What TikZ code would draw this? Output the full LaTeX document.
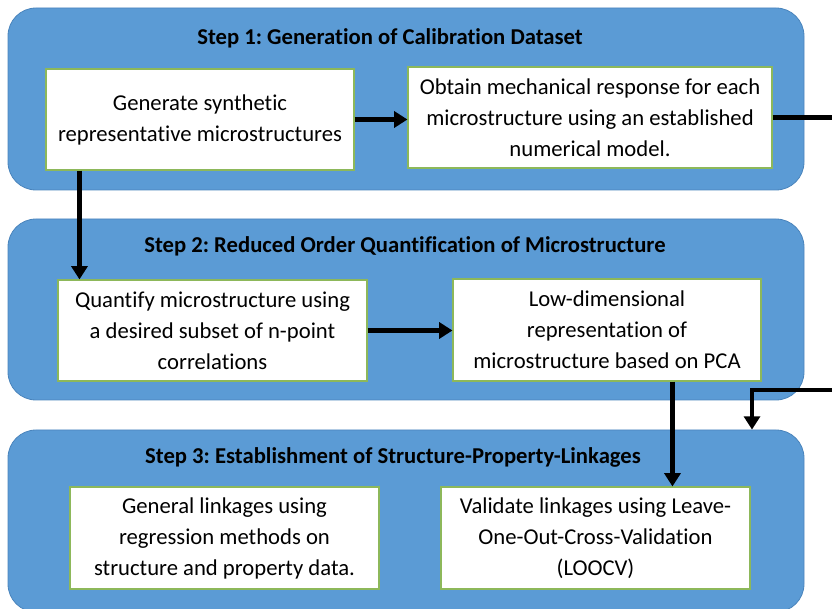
\documentclass[tikz,border=0pt]{standalone}
\usepackage{fontspec}
\setmainfont{Carlito}[Ligatures=NoCommon]
\usetikzlibrary{arrows.meta}
\frenchspacing
\definecolor{stepfill}{HTML}{5B9BD5}
\definecolor{stepline}{HTML}{4A84BC}
\definecolor{boxline}{HTML}{8DB85A}
\tikzset{
  stepbox/.style={draw=stepline, line width=0.6pt, fill=stepfill, rounded corners=21pt, minimum width=597pt, inner sep=0pt},
  titletext/.style={font=\fontsize{17}{22}\selectfont\bfseries, inner sep=0pt},
  wbox/.style={draw=boxline, line width=0.8pt, fill=white, align=center, inner sep=0pt, font=\fontsize{17}{23.25}\selectfont},
  arr/.style={line width=3.4pt, -{Triangle[length=10pt,width=12pt]}},
}
\begin{document}
\begin{tikzpicture}[x=0.75pt,y=-0.75pt]
\useasboundingbox (0,0) rectangle (832,609);
\clip (0,0) rectangle (832,609);
% step containers
\node[stepbox, minimum height=136.5pt] (s1) at (406,99) {};
\node[stepbox, minimum height=135.75pt] (s2) at (406,309.5) {};
\node[stepbox, minimum height=136.5pt] (s3) at (406,521) {};
% titles
\node[titletext] (t1) at (390,38) {Step 1: Generation of Calibration Dataset};
\node[titletext] (t2) at (405,246) {Step 2: Reduced Order Quantification of Microstructure};
\node[titletext] (t3) at (393,457) {Step 3: Establishment of Structure-Property-Linkages};
% white boxes
\node[wbox, minimum width=231pt, minimum height=75.75pt] (gen) at (200,119.5) {Generate synthetic\\representative microstructures};
\node[wbox, minimum width=273pt, minimum height=75.75pt] (obt) at (590,117.5) {Obtain mechanical response for each\\microstructure using an established\\numerical model.};
\node[wbox, minimum width=231.75pt, minimum height=75.75pt] (quant) at (212.5,330.5) {Quantify microstructure using\\a desired subset of n-point\\correlations};
\node[wbox, minimum width=231pt, minimum height=76.5pt] (low) at (607,330) {Low-dimensional\\representation of\\microstructure based on PCA};
\node[wbox, minimum width=231.75pt, minimum height=76.5pt] (lin) at (224.5,538) {General linkages using\\regression methods on\\structure and property data.};
\node[wbox, minimum width=231.75pt, minimum height=76.5pt] (val) at (595.5,538) {Validate linkages using Leave-\\One-Out-Cross-Validation\\(LOOCV)};
% connectors
\draw[arr] (gen.east) -- (gen.east -| obt.west);
\draw[arr] ([xshift=25.5pt]gen.south west) -- ([xshift=25.5pt]gen.south west |- quant.north);
\draw[arr] (quant.east) -- (quant.east -| low.west);
\draw[arr] ([xshift=165pt]low.south west) -- ([xshift=165pt]low.south west |- val.north);
\coordinate (r1) at (850,390);
\coordinate (r2) at (752,390);
\draw[arr] (obt.east) -| (r1) -- (r2) -- (r2 |- s3.north);
\end{tikzpicture}
\end{document}
